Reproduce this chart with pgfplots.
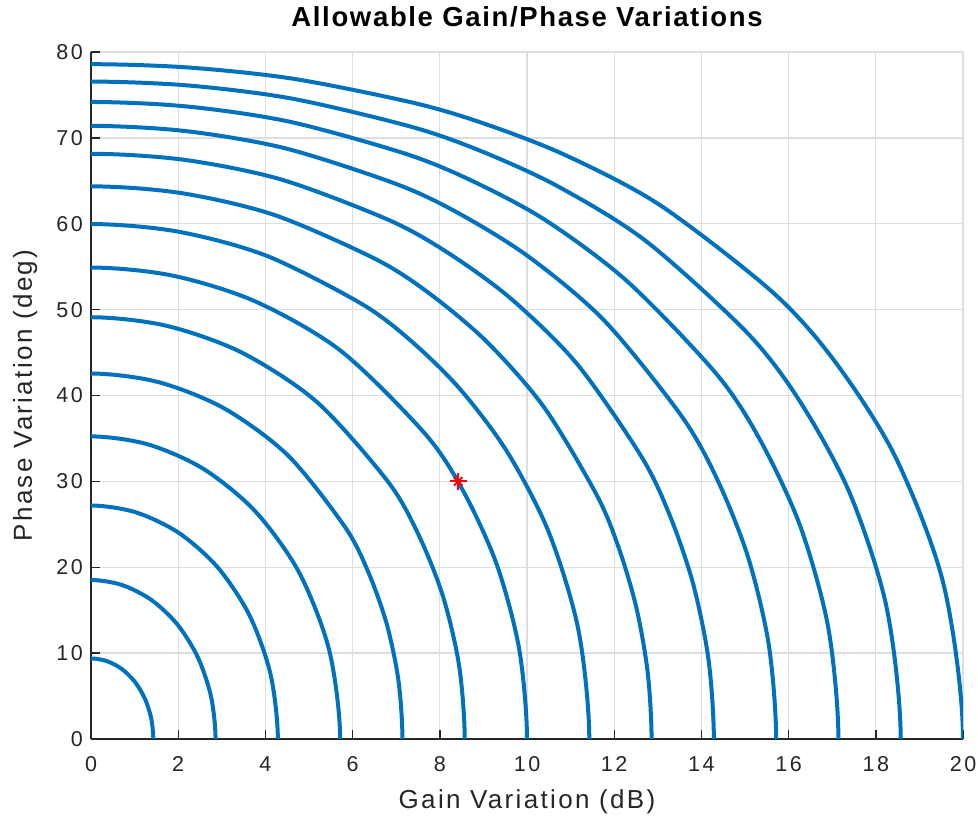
\documentclass[border=0pt]{standalone}
\usepackage{fontspec}
\setmainfont{Liberation Sans}[LetterSpace=12]
\newfontfamily\labelfont{Liberation Sans}[LetterSpace=9]
\newfontfamily\titlefont{Liberation Sans}[LetterSpace=6]
\usepackage{pgfplots}
\pgfplotsset{compat=1.18}
\definecolor{mblue}{rgb}{0,0.447,0.741}
\definecolor{axgray}{rgb}{0.15,0.15,0.15}
\definecolor{gridgray}{rgb}{0.87,0.87,0.87}
\pgfplotsset{c/.style={color=mblue, line width=4bp, smooth, mark=none, solid}}
\begin{document}
\begin{tikzpicture}
\begin{axis}[
  scale only axis, width=872bp, height=687bp,
  xmin=0, xmax=20, ymin=0, ymax=80,
  xtick={0,2,...,20}, ytick={0,10,...,80},
  axis x line*=bottom, axis y line*=left,
  axis line style={axgray, line width=1.4bp, -},
  tick align=inside, major tick length=9bp,
  tick style={axgray, line width=1.4bp},
  grid=major, grid style={gridgray, line width=1.3bp},
  /pgf/number format/assume math mode=true,
  tick label style={font=\fontsize{21.5bp}{25bp}\selectfont, text=axgray},
  xticklabel style={anchor=base, yshift=-33bp, inner sep=0pt},
  yticklabel style={anchor=east, xshift=-8bp, inner sep=0pt},
  title={Allowable Gain/Phase Variations},
  title style={at={(0.5,1)}, anchor=base, yshift=20bp, font=\titlefont\bfseries\fontsize{27.5bp}{31bp}\selectfont},
  xlabel={Gain Variation (dB)},
  xlabel style={at={(0.5,0)}, anchor=base, yshift=-70bp, font=\labelfont\fontsize{26bp}{30bp}\selectfont, text=axgray},
  ylabel={Phase Variation (deg)},
  ylabel style={at={(axis description cs:-0.0677,0.5)}, anchor=base, font=\labelfont\fontsize{26bp}{30bp}\selectfont, text=axgray},
]
\addplot[c] coordinates {(1.3791,-2.449)(1.4286,0)(1.3791,2.449)(1.2344,4.722)(1.0056,6.663)(0.7095,8.143)(0.3667,9.067)(0,9.381)(-0.3667,9.067)};
\addplot[c] coordinates {(2.7530,-4.954)(2.8571,0)(2.7530,4.954)(2.4519,9.506)(1.9843,13.323)(1.3909,16.174)(0.7155,17.926)(0,18.516)(-0.7155,17.926)};
\addplot[c] coordinates {(4.1162,-7.573)(4.2857,0)(4.1162,7.573)(3.6354,14.404)(2.9106,19.962)(2.0200,23.982)(1.0320,26.390)(0,27.189)(-1.0320,26.390)};
\addplot[c] coordinates {(5.4625,-10.361)(5.7143,0)(5.4625,10.361)(4.7672,19.453)(3.7624,26.541)(2.5789,31.456)(1.3068,34.306)(0,35.237)(-1.3068,34.306)};
\addplot[c] coordinates {(7.0510,-6.835)(7.1429,0)(7.0510,6.835)(6.7841,13.369)(6.3664,19.361)(5.8296,24.661)(4.5229,32.995)(3.0577,38.492)(1.5363,41.572)(0,42.559)(-1.5363,41.572)};
\addplot[c] coordinates {(8.4418,-8.573)(8.5714,0)(8.4418,8.573)(8.0712,16.643)(7.5071,23.845)(6.8056,30.006)(5.1814,39.239)(3.4546,45.007)(1.7218,48.128)(0,49.114)(-1.7218,48.128)};
\addplot[c] coordinates {(9.8192,-10.522)(10,0)(9.8192,10.522)(9.3132,20.219)(8.5693,28.571)(7.6808,35.432)(5.7350,45.177)(3.7742,50.943)(1.8676,53.964)(0,54.903)(-1.8676,53.964)};
\addplot[c] coordinates {(11.1781,-12.722)(11.4286,0)(11.1781,12.722)(10.4968,24.117)(9.5383,33.501)(8.4458,40.854)(7.3128,46.478)(6.1876,50.730)(4.0251,56.274)(1.9798,59.098)(0,59.966)(-1.9798,59.098)};
\addplot[c] coordinates {(12.7683,-7.759)(12.8571,0)(12.7683,7.759)(12.5119,15.212)(12.1136,22.118)(11.6072,28.332)(10.4011,38.562)(9.0961,46.167)(7.7980,51.743)(6.5481,55.829)(4.2183,61.001)(2.0647,63.574)(0,64.357)(-2.0647,63.574)};
\addplot[c] coordinates {(14.1629,-9.261)(14.2857,0)(14.1629,9.261)(13.8128,18.026)(13.2828,25.938)(12.6302,32.834)(11.1505,43.654)(9.6345,51.264)(8.1857,56.621)(6.8294,60.437)(4.3644,65.149)(2.1281,67.450)(0,68.146)(-2.1281,67.450)};
\addplot[c] coordinates {(15.5444,-10.996)(15.7143,0)(15.5444,10.996)(15.0698,21.195)(14.3755,30.096)(13.5518,37.557)(11.7834,48.665)(10.0686,56.051)(8.4888,61.060)(7.0445,64.544)(4.4737,68.760)(2.1749,70.787)(0,71.397)(-2.1749,70.787)};
\addplot[c] coordinates {(16.9085,-12.997)(17.1429,0)(16.9085,12.997)(16.2709,24.732)(15.3759,34.546)(14.3620,42.408)(12.3043,53.267)(10.4107,60.458)(8.7213,65.039)(7.2067,68.162)(4.5546,71.882)(2.2093,73.650)(0,74.179)(-2.2093,73.650)};
\addplot[c] coordinates {(18.2487,-15.300)(18.5714,0)(18.2487,15.300)(17.4017,28.633)(16.2721,39.215)(15.0556,47.271)(12.7219,58.006)(10.6748,64.445)(8.8968,68.559)(7.3276,71.319)(4.6139,74.567)(2.2344,76.098)(0,76.555)(-2.2344,76.098)};
\addplot[c] coordinates {(19.5578,-17.939)(20,0)(19.5578,17.939)(18.4478,32.867)(17.0555,44.000)(15.6337,52.026)(13.0498,62.170)(10.8756,67.999)(9.0279,71.641)(7.4168,74.055)(4.6573,76.869)(2.2527,78.187)(0,78.579)(-2.2527,78.187)};
\addplot[red, line width=2bp, only marks, mark=+, mark size=8.5pt, mark options={solid, red, line width=2bp}] coordinates {(8.42,30)};
\addplot[red, line width=2bp, only marks, mark=x, mark size=6pt, mark options={solid, red, line width=2bp}] coordinates {(8.42,30)};
\end{axis}
\pgfresetboundingbox
\useasboundingbox (-91bp,-79bp) rectangle (887bp,739bp);
\end{tikzpicture}
\end{document}
